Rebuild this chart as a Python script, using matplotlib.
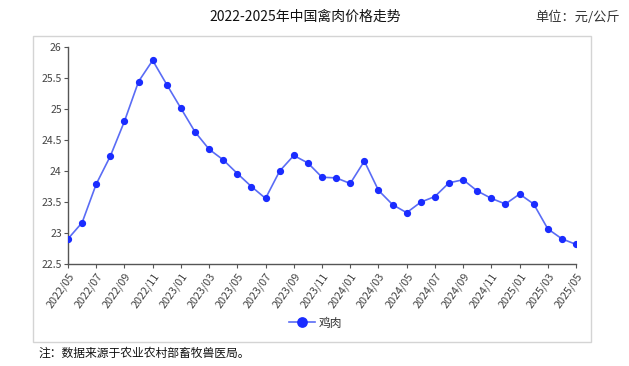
import matplotlib
matplotlib.use("Agg")
import matplotlib.pyplot as plt
from matplotlib.patches import Rectangle

plt.rcParams['font.family'] = ['Noto Sans CJK SC', 'DejaVu Sans']

months = ["2022/05","2022/06","2022/07","2022/08","2022/09","2022/10","2022/11","2022/12",
          "2023/01","2023/02","2023/03","2023/04","2023/05","2023/06","2023/07","2023/08",
          "2023/09","2023/10","2023/11","2023/12","2024/01","2024/02","2024/03","2024/04",
          "2024/05","2024/06","2024/07","2024/08","2024/09","2024/10","2024/11","2024/12",
          "2025/01","2025/02","2025/03","2025/04","2025/05"]
chicken = [22.91, 23.17, 23.79, 24.24, 24.80, 25.44, 25.78, 25.39,
           25.01, 24.63, 24.35, 24.18, 23.96, 23.75, 23.56, 24.00,
           24.25, 24.13, 23.90, 23.89, 23.80, 24.16, 23.69, 23.46,
           23.33, 23.50, 23.59, 23.81, 23.86, 23.68, 23.56, 23.47,
           23.63, 23.47, 23.07, 22.91, 22.82]
yticks = [22.5, 23, 23.5, 24, 24.5, 25, 25.5, 26]
ytick_labels = ["22.5", "23", "23.5", "24", "24.5", "25", "25.5", "26"]

W, H = 629, 366
fig = plt.figure(figsize=(W/100, H/100), dpi=100)

# outer frame
fig.patches.append(Rectangle((33/W, 1-342/H), (591-33)/W, (342-36)/H,
                             transform=fig.transFigure, fill=False,
                             edgecolor='#d4d4d4', linewidth=1.0))

ax = fig.add_axes([68/W, 1-264.3/H, (576-68)/W, (264.3-46.7)/H])
x = list(range(len(months)))
ax.plot(x, chicken, color='#5a6cf5', linewidth=1.2, marker='o', markersize=4.2,
        markerfacecolor='#1a2cff', markeredgecolor='#1a2cff', label='鸡肉', zorder=3)
ax.set_xlim(0, len(months)-1)
ax.set_ylim(22.5, 26)
ax.set_yticks(yticks)
ax.set_yticklabels(ytick_labels, fontsize=7.5, color='#444444')
ax.set_xticks(x[::2])
ax.set_xticklabels(months[::2], rotation=55, ha='right', rotation_mode='anchor',
                   fontsize=7.8, color='#444444')
for s in ['top', 'right']:
    ax.spines[s].set_visible(False)
for s in ['left', 'bottom']:
    ax.spines[s].set_color('#555555')
    ax.spines[s].set_linewidth(1.0)
ax.tick_params(axis='both', length=3, width=0.8, color='#555555', pad=1.5)

leg = fig.legend(loc='center', bbox_to_anchor=(316/W, 1-323/H), frameon=False,
                 fontsize=8.5, handlelength=2.2, handletextpad=0.3, markerscale=1.6)
for t in leg.get_texts():
    t.set_color('#333333')

fig.text(305/W, 1-17/H, '2022-2025年中国禽肉价格走势', ha='center', va='center',
         fontsize=10, color='#111111')
fig.text(620/W, 1-17/H, '单位：元/公斤', ha='right', va='center', fontsize=9.5,
         color='#333333')
fig.text(38/W, 1-353/H, '注：数据来源于农业农村部畜牧兽医局。', ha='left', va='center',
         fontsize=8.5, color='#111111')

fig.savefig('out.png', dpi=100)
